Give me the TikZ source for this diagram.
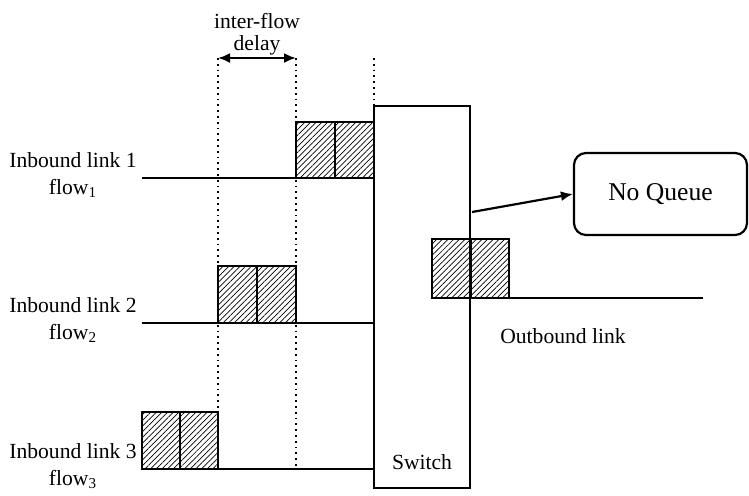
\documentclass[tikz,border=0pt]{standalone}
\usepackage{fontspec}
\setmainfont{Liberation Serif}
\usetikzlibrary{patterns.meta, arrows.meta}

\tikzset{
  pkt/.style={draw, line width=1.1pt,
    pattern={Lines[angle=45, distance=2pt, line width=0.35pt]}},
  link/.style={line width=1.1pt},
  guide/.style={dotted, line width=0.9pt},
  lbl/.style={align=center, inner sep=0pt, font=\fontsize{10.8}{13.5}\selectfont},
  tip/.style={line width=1.1pt, >={Latex[length=6pt,width=5pt]}},
}

\begin{document}
\begin{tikzpicture}[x=0.5pt, y=-0.5pt]
    \useasboundingbox (0,0) rectangle (749,495);

    % dotted time marks
    \coordinate (t1) at (218,58);
    \coordinate (t2) at (296,58);
    \coordinate (t3) at (374,58);
    \draw[guide] (t1) -- (218,412);
    \draw[guide] (t2) -- (296,469);
    \draw[guide] (t3) -- (374,106);

    \draw[tip, <->] (t1) -- (t2);
    \node[lbl, font=\fontsize{10.8}{10.8}\selectfont] (delay) at (257,34) {inter-flow\\delay};

    % switch
    \node[draw, line width=1.2pt, minimum width=48pt, minimum height=191pt, inner sep=0pt] (switch) at (422,297) {};
    \node[lbl] (switchtxt) at (422,462) {Switch};

    % inbound links
    \node[lbl] (in1) at (73,175) {Inbound link 1\\flow\textsubscript{1}};
    \node[lbl] (in2) at (73,320) {Inbound link 2\\flow\textsubscript{2}};
    \node[lbl] (in3) at (73,466) {Inbound link 3\\flow\textsubscript{3}};

    \draw[link] (142,178) -- (296,178);
    \draw[link] (142,323) -- (374,323);
    \draw[link] (218,469) -- (374,469);

    \draw[pkt] (296,122) rectangle (335,178);
    \draw[pkt] (335,122) rectangle (374,178);
    \draw[pkt] (218,266) rectangle (257,323);
    \draw[pkt] (257,266) rectangle (296,323);
    \draw[pkt] (142,412) rectangle (180,469);
    \draw[pkt] (180,412) rectangle (218,469);

    % outbound link
    \draw[pkt] (432,239) rectangle (471,298);
    \draw[pkt] (471,239) rectangle (509,298);
    \draw[link] (509,298) -- (703,298);
    \node[lbl] (outlbl) at (563,336) {Outbound link};

    % queue
    \node[draw, link, rounded corners=6pt, minimum width=86.5pt, minimum height=41pt,
          font=\fontsize{12.8}{14}\selectfont] (noqueue) at (660.5,194) {No Queue};
    \coordinate (swout) at (472,212);
    \draw[tip, ->] (swout) -- (noqueue.west);

\end{tikzpicture}
\end{document}
